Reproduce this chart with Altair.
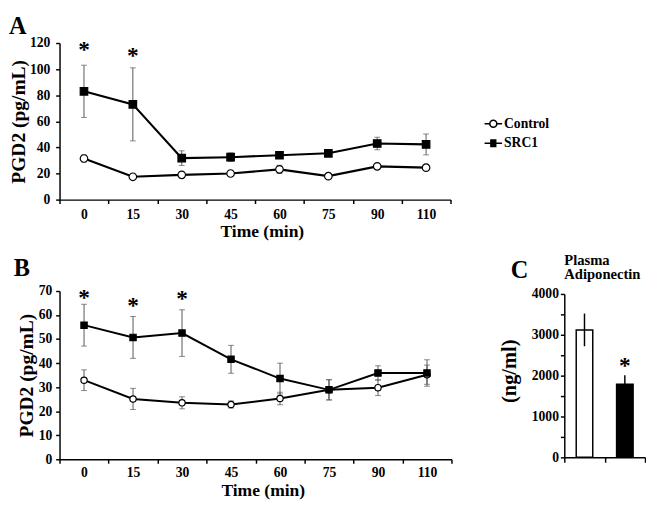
import altair as alt
import pandas as pd

FONT = "Liberation Serif"

# ---------------- data ----------------
times = ["0", "15", "30", "45", "60", "75", "90", "110"]
series = ["Control", "SRC1"]

a_control = [31.5, 17.5, 19.0, 20.0, 23.2, 18.0, 25.5, 24.5]
a_control_err = [2.7, 1.0, 1.0, 1.2, 3.1, 1.0, 1.2, 1.2]
a_src1 = [83.0, 73.0, 31.8, 32.5, 34.0, 35.5, 43.0, 42.3]
a_src1_err = [20.0, 28.0, 5.6, 3.3, 2.0, 1.5, 4.8, 8.0]
a_star_times = ["0", "15"]
a_star_y = [109, 105]

b_control = [32.9, 25.1, 23.5, 22.8, 25.3, 28.9, 29.8, 35.2]
b_control_err = [4.3, 4.4, 2.5, 1.5, 2.6, 4.2, 3.3, 4.0]
b_src1 = [55.8, 50.7, 52.5, 41.6, 33.6, 28.9, 35.9, 35.9]
b_src1_err = [8.7, 8.7, 9.7, 5.8, 6.4, 4.2, 3.0, 5.5]
b_star_times = ["0", "15", "30"]
b_star_y = [64.2, 60.8, 63.6]

c_groups = ["Control", "SRC1"]
c_values = [3120, 1790]
c_err = [400, 220]
c_star_group = ["SRC1"]
c_star_y = [2065]
c_title = ["Plasma", "Adiponectin"]


def long_df(ctrl, ctrl_err, src, src_err):
    rows = []
    for s, vals, errs in [("Control", ctrl, ctrl_err), ("SRC1", src, src_err)]:
        for t, v, e in zip(times, vals, errs):
            rows.append({"time": t, "series": s, "value": v, "lo": v - e, "hi": v + e})
    return pd.DataFrame(rows)


# legend glyphs: line with open circle / line with solid square (drawn as strokes)
LEG_CTRL = "M-1,0H-0.4M0.4,0H1M0.4,0A0.4,0.4,0,1,1,-0.4,0A0.4,0.4,0,1,1,0.4,0Z"
LEG_SRC = ("M-1,0H1M-0.36,-0.36H0.36M-0.36,-0.24H0.36M-0.36,-0.12H0.36"
           "M-0.36,0.12H0.36M-0.36,0.24H0.36M-0.36,0.36H0.36")


def letter_mark(letter, dx, dy, size=25):
    return alt.Chart(pd.DataFrame({"label": [letter]})).mark_text(
        font=FONT, fontWeight="bold", fontSize=size, align="left",
        baseline="alphabetic", color="black").encode(
        x=alt.value(dx), y=alt.value(dy), text="label:N")


def line_panel(df, star_t, star_y, ymax, letter, letter_pos, width, height, psize,
               lwidth, xaxis, yaxis, legend=False):
    xs = alt.Scale(paddingInner=0, paddingOuter=0)
    x = alt.X("time:O", sort=times, scale=xs, axis=xaxis)
    yscale = alt.Scale(domain=[0, ymax], nice=False, zero=True)

    def Y(field):
        return alt.Y(field, scale=yscale, axis=yaxis)

    base = alt.Chart(df)
    err = base.mark_rule(color="#555555", strokeWidth=1).encode(
        x=x, y=Y("lo:Q"), y2="hi:Q")
    cap_hi = base.mark_tick(color="#555555", thickness=1, size=6).encode(
        x=x, y=Y("hi:Q"))
    cap_lo = base.mark_tick(color="#555555", thickness=1, size=6).encode(
        x=x, y=Y("lo:Q"))
    line = base.mark_line(color="black", strokeWidth=lwidth).encode(
        x=x, y=Y("value:Q"), detail="series:N")
    pts = base.mark_point(filled=True, opacity=1, stroke="black",
                          strokeWidth=1.2, size=psize).encode(
        x=x, y=Y("value:Q"),
        shape=alt.Shape("series:N", scale=alt.Scale(domain=series, range=["circle", "square"]),
                        legend=None),
        fill=alt.Fill("series:N", scale=alt.Scale(domain=series, range=["white", "black"]),
                      legend=None),
    )
    sdf = pd.DataFrame({"time": star_t, "y": star_y})
    stars = alt.Chart(sdf).mark_text(text="*", font=FONT, fontWeight="bold", fontSize=24,
                                     baseline="alphabetic", color="black").encode(
        x=x, y=Y("y:Q"))
    layers = [err, cap_hi, cap_lo, line, pts, stars,
              letter_mark(letter, letter_pos[0], letter_pos[1])]
    if legend:
        leg = alt.Legend(
            title=None, orient="none", legendX=436, legendY=73,
            labelFont=FONT, labelFontWeight="bold", labelFontSize=14,
            labelColor="black", symbolSize=324, labelOffset=1, rowPadding=3,
            symbolStrokeColor="black", symbolStrokeWidth=1.6, symbolOpacity=1)
        legl = base.mark_point(filled=False, size=0, color="black", strokeWidth=1.6).encode(
            x=x, y=Y("value:Q"),
            shape=alt.Shape("series:N", scale=alt.Scale(domain=series, range=[LEG_CTRL, LEG_SRC]),
                            legend=leg),
        )
        layers.append(legl)
    ch = alt.layer(*layers)
    if legend:
        ch = ch.resolve_scale(shape="independent")
    return ch.properties(width=width, height=height)


axis_common = dict(titleFont=FONT, titleFontWeight="bold", titleColor="black",
                   grid=False, labelOverlap=False)

a_x = alt.Axis(title="Time (min)", labelAngle=0, tickBand="extent", tickSize=4,
               labelPadding=4, titleFontSize=18, titlePadding=2,
               titleX=208, **axis_common)
a_y = alt.Axis(title="PGD2 (pg/mL)", values=list(range(0, 121, 20)), tickSize=4,
               labelPadding=6, titleFontSize=20, titlePadding=1,
               **axis_common)
b_x = alt.Axis(title="Time (min)", labelAngle=0, tickBand="extent", tickSize=4,
               labelPadding=3, titleFontSize=18, titlePadding=2,
               titleX=209, **axis_common)
b_y = alt.Axis(title="PGD2 (pg/mL)", values=list(range(0, 71, 10)), tickSize=4,
               labelPadding=4, titleFontSize=20, titlePadding=2,
               **axis_common)

chartA = line_panel(long_df(a_control, a_control_err, a_src1, a_src1_err),
                    a_star_times, a_star_y, 120, "A", (-52, -9), 402, 161, 60, 2.2,
                    a_x, a_y, legend=True)
chartB = line_panel(long_df(b_control, b_control_err, b_src1, b_src1_err),
                    b_star_times, b_star_y, 70, "B", (-47, -15), 403, 173, 42, 2.0,
                    b_x, b_y)

# ---------------- panel C ----------------
cdf = pd.DataFrame({"group": c_groups, "value": c_values,
                    "lo": [v - e for v, e in zip(c_values, c_err)],
                    "hi": [v + e for v, e in zip(c_values, c_err)]})
c_yscale = alt.Scale(domain=[0, 4000], range=[171, 3], nice=False)
cxs = alt.Scale(paddingInner=0, paddingOuter=0)
c_xaxis = alt.Axis(labels=False, title=None, tickBand="extent", tickSize=5, **axis_common)
c_yaxis = alt.Axis(title="(ng/ml)", values=list(range(0, 4001, 500)),
                   labelExpr="datum.value % 1000 === 0 ? datum.value : ''",
                   tickSize=4, labelPadding=2,
                   titleFontSize=21, titlePadding=12, titleY=82, **axis_common)
cx = alt.X("group:N", sort=c_groups, scale=cxs, axis=c_xaxis)


def CY(field):
    return alt.Y(field, scale=c_yscale, axis=c_yaxis)


cbase = alt.Chart(cdf)
bars = cbase.mark_bar(size=17, stroke="black", strokeWidth=1.5).encode(
    x=cx, y=CY("value:Q"),
    fill=alt.Fill("group:N", scale=alt.Scale(domain=c_groups, range=["white", "black"]),
                  legend=None))
cerr = cbase.mark_rule(color="black", strokeWidth=1.5).encode(
    x=cx, y=CY("lo:Q"), y2="hi:Q")
cstar = alt.Chart(pd.DataFrame({"group": c_star_group, "y": c_star_y})).mark_text(
    text="*", font=FONT, fontWeight="bold", fontSize=24, baseline="alphabetic",
    color="black").encode(x=cx, y=CY("y:Q"))
ctitle = alt.Chart(pd.DataFrame({"k": [0]})).mark_text(
    text=c_title, font=FONT, fontWeight="bold", fontSize=15, lineHeight=15,
    align="left", baseline="alphabetic", color="black").encode(
    x=alt.value(0), y=alt.value(-27))
chartC = alt.layer(bars, cerr, cstar, letter_mark("C", -55, -13), ctitle).properties(
    width=83, height=171)

top = alt.hconcat(chartA)
bottom = alt.hconcat(chartB, chartC, spacing=48)
chart = alt.vconcat(top, bottom, spacing=13).properties(
    padding={"left": 0, "top": 0, "right": 0, "bottom": 0}
).configure_view(stroke=None).configure_axis(
    labelFont=FONT, labelFontWeight="bold", labelFontSize=14, labelColor="black",
    domainColor="black", domainWidth=1.5, tickColor="black", tickWidth=1.5,
)

chart.save("out.html", embed_options={"renderer": "svg", "actions": False})
